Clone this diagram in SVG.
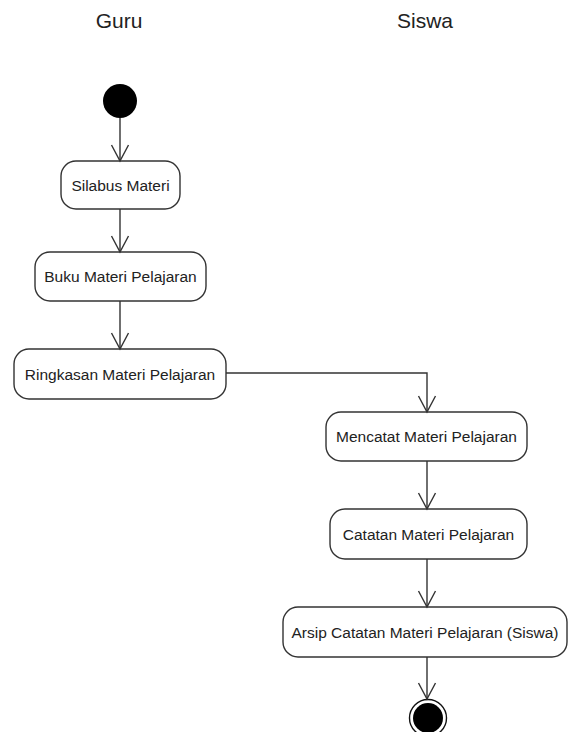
<svg xmlns="http://www.w3.org/2000/svg" width="571" height="732" viewBox="0 0 571 732">
<style>
.lane{font-family:"Liberation Sans",Arial,sans-serif;font-size:21px;fill:#222;text-anchor:middle}
.act rect{fill:#fff;stroke:#333;stroke-width:1.4}
.act text{font-family:"Liberation Sans",Arial,sans-serif;font-size:15.5px;fill:#222;text-anchor:middle}
.conn path{fill:none;stroke:#333;stroke-width:1.4}
</style>
<defs>
<marker id="arr" viewBox="0 0 20 20" refX="17" refY="10" markerWidth="20" markerHeight="20" markerUnits="userSpaceOnUse" orient="auto">
<path d="M1,1.5 L17,10 L1,18.5" fill="none" stroke="#333" stroke-width="1.4"/>
</marker>
</defs>
<rect width="571" height="732" fill="#fff"/>
<text class="lane" x="119" y="28">Guru</text>
<text class="lane" x="425" y="28">Siswa</text>
<g id="start"><circle cx="120" cy="101" r="17" fill="#000"/></g>
<g id="silabus" class="act"><rect x="61" y="161" width="119" height="48" rx="15"/><text x="120.5" y="190.5">Silabus Materi</text></g>
<g id="buku" class="act"><rect x="35" y="252" width="171" height="49" rx="15"/><text x="120.5" y="282">Buku Materi Pelajaran</text></g>
<g id="ringkasan" class="act"><rect x="14" y="349" width="212" height="50" rx="15"/><text x="120" y="379.5">Ringkasan Materi Pelajaran</text></g>
<g id="mencatat" class="act"><rect x="326" y="412" width="201" height="49" rx="15"/><text x="426.5" y="442">Mencatat Materi Pelajaran</text></g>
<g id="catatan" class="act"><rect x="330" y="509" width="197" height="50" rx="15"/><text x="428.5" y="539.5">Catatan Materi Pelajaran</text></g>
<g id="arsip" class="act"><rect x="283" y="607" width="284" height="50" rx="15"/><text x="425" y="637.5">Arsip Catatan Materi Pelajaran (Siswa)</text></g>
<g id="end"><circle cx="428" cy="718" r="18.5" fill="#fff" stroke="#111" stroke-width="1.4"/><circle cx="428" cy="718" r="15" fill="#000"/></g>
<g id="connectors" class="conn">
<path d="M120,118 V161" marker-end="url(#arr)"/>
<path d="M120,209 V252" marker-end="url(#arr)"/>
<path d="M120,301 V349" marker-end="url(#arr)"/>
<path d="M226,373 H427 V412" marker-end="url(#arr)"/>
<path d="M427,461 V509" marker-end="url(#arr)"/>
<path d="M427,559 V607" marker-end="url(#arr)"/>
<path d="M427,657 V699" marker-end="url(#arr)"/>
</g>
</svg>
